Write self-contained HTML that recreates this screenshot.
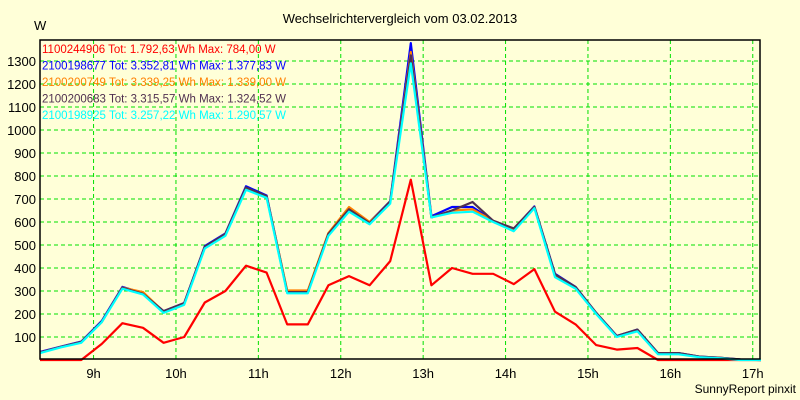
<!DOCTYPE html>
<html><head><meta charset="utf-8"><style>
body{margin:0;background:#ffffd8;}
svg{display:block;font-family:"Liberation Sans",sans-serif;}
</style></head><body>
<svg id="c" width="800" height="400">
<rect width="800" height="400" fill="#ffffd8"/>
<text x="400" y="23" text-anchor="middle" font-size="13">Wechselrichtervergleich vom 03.02.2013</text>
<text x="34" y="30" font-size="13">W</text>
<text x="796" y="393" text-anchor="end" font-size="12">SunnyReport pinxit</text>
<g id="grid"></g><g id="ticks"></g><g id="lines"></g><g id="legend"></g>
<rect x="40" y="40" width="720" height="319" fill="none" stroke="#000" stroke-width="1.5"/>
</svg>
<script>
const hourTicks=[9,10,11,12,13,14,15,16,17];
const yTicks=[100,200,300,400,500,600,700,800,900,1000,1100,1200,1300];
const startHour=8.35, stepHour=0.25;
const names=["1100244906","2100198677","2100200749","2100200683","2100198925"];
const legendText=["Tot: 1.792,63 Wh Max: 784,00 W","Tot: 3.352,81 Wh Max: 1.377,83 W","Tot: 3.339,25 Wh Max: 1.339,00 W","Tot: 3.315,57 Wh Max: 1.324,52 W","Tot: 3.257,22 Wh Max: 1.290,57 W"];
const colors=["#ff0000","#0000ff","#ff8000","#503050","#00ffff"];
const red=[0,0,0,70,160,140,75,100,250,300,410,380,155,155,325,365,325,430,784,325,400,375,375,330,395,210,155,65,45,52,0,0,0,0,0,0];
const blue=[35,58,80,170,318,290,212,248,495,550,755,715,298,298,550,655,600,690,1378,625,665,665,605,570,668,375,318,205,105,132,30,30,15,10,2,0];
const orange=[32,56,78,165,315,295,210,245,490,548,748,710,302,302,552,665,600,685,1339,620,650,655,605,570,665,370,315,202,103,130,28,28,14,9,1,0];
const brown=[32,56,78,167,314,288,212,247,492,548,750,712,295,295,548,655,595,690,1325,620,650,687,605,572,665,372,317,205,104,132,30,30,15,10,2,0];
const cyan=[30,55,75,165,310,285,205,240,485,540,740,705,290,290,540,645,590,680,1290,620,640,645,600,560,660,360,310,200,100,125,25,25,12,8,0,0];
const series=[red,blue,orange,brown,cyan];
const X=h=>40+(h-startHour)*82.4;
const Y=v=>360-v*0.23;
const NS="http://www.w3.org/2000/svg";
function mk(t,a,p){const e=document.createElementNS(NS,t);for(const k in a)e.setAttribute(k,a[k]);p.appendChild(e);return e;}
const grid=document.getElementById('grid'),ticks=document.getElementById('ticks'),lines=document.getElementById('lines'),legend=document.getElementById('legend');
hourTicks.forEach(h=>{
  const l=mk('line',{x1:X(h),x2:X(h),y1:40,y2:359,stroke:'#00e000','stroke-dasharray':'4,3'},grid);
  
  
  const t=mk('text',{x:X(h),y:378,'text-anchor':'middle','font-size':'13'},ticks);
  t.textContent=h+'h';
  
  
});
yTicks.forEach(v=>{
  const l=mk('line',{x1:40,x2:760,y1:Y(v),y2:Y(v),stroke:'#00e000','stroke-dasharray':'4,3'},grid);
  
  
  const t=mk('text',{x:36,y:Y(v)+5,'text-anchor':'end','font-size':'13'},ticks);
  t.textContent=v;
  
  
});
series.forEach((s,i)=>{
  const pts=s.map((v,k)=>X(startHour+k*stepHour).toFixed(1)+','+Y(v).toFixed(1)).join(' ');
  const p=mk('polyline',{points:pts,fill:'none',stroke:colors[i],'stroke-width':'2.2','stroke-linejoin':'round'},lines);
  
  
  const t=mk('text',{x:42,y:53+i*16.5,'font-size':'11.5',fill:colors[i]},legend);
  t.textContent=names[i]+' '+legendText[i];
  
  
});
</script>
</body></html>
